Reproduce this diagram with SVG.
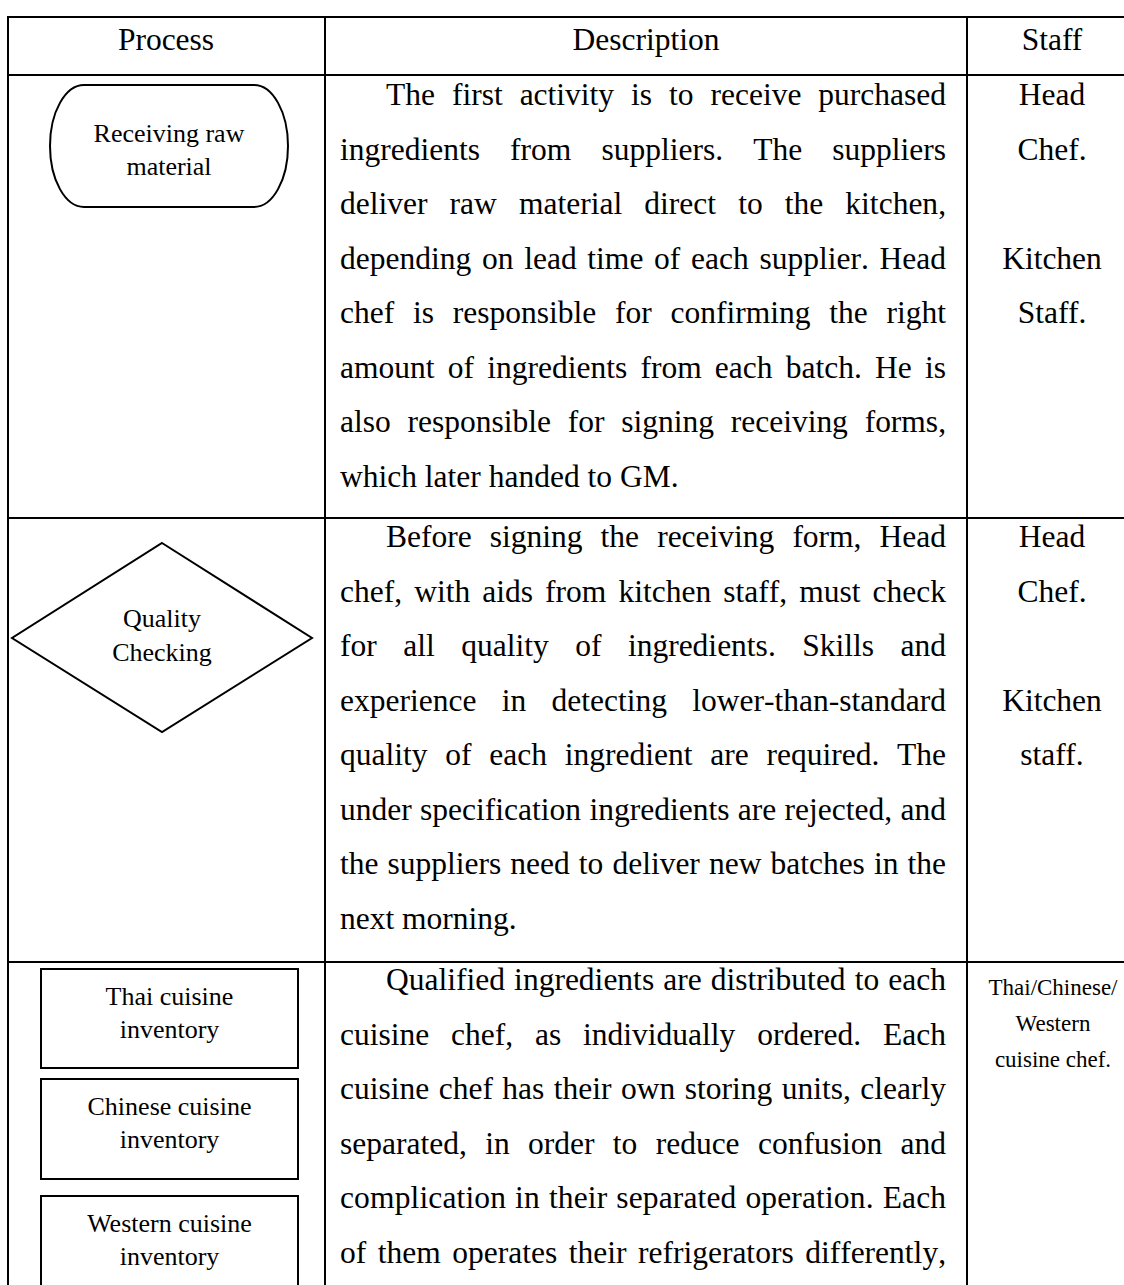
<svg xmlns="http://www.w3.org/2000/svg" width="1124" height="1285" viewBox="0 0 1124 1285">
  <style>
    .grid { stroke: #000; stroke-width: 2; fill: none; }
    .shape { stroke: #000; stroke-width: 2; fill: #fff; }
    .head { font-family: "Liberation Serif", "Times New Roman", serif; font-size: 31.5px; fill: #000; text-anchor: middle; }
    .body { font-family: "Liberation Serif", "Times New Roman", serif; font-size: 31.5px; fill: #000; font-kerning: none; }
    .staff { font-family: "Liberation Serif", "Times New Roman", serif; font-size: 31.5px; fill: #000; text-anchor: middle; }
    .staff-sm { font-family: "Liberation Serif", "Times New Roman", serif; font-size: 23px; fill: #000; text-anchor: middle; }
    .label { font-family: "Liberation Serif", "Times New Roman", serif; font-size: 26px; fill: #000; text-anchor: middle; }
  </style>
  <rect width="1124" height="1285" fill="#fff"/>

  <!-- table rules -->
  <g id="table" class="grid">
    <line x1="8" y1="17" x2="1124" y2="17"/>
    <line x1="8" y1="75" x2="1124" y2="75"/>
    <line x1="8" y1="518" x2="1124" y2="518"/>
    <line x1="8" y1="962" x2="1124" y2="962"/>
    <line x1="8" y1="16" x2="8" y2="1285"/>
    <line x1="325" y1="16" x2="325" y2="1285"/>
    <line x1="967" y1="16" x2="967" y2="1285"/>
  </g>

  <!-- column headings -->
  <g id="headings">
    <text class="head" x="166" y="50">Process</text>
    <text class="head" x="646" y="50">Description</text>
    <text class="head" x="1052" y="50">Staff</text>
  </g>

  <!-- process shapes -->
  <g id="node-receiving">
    <rect class="shape" x="50" y="85" width="238" height="122" rx="34" ry="61"/>
    <text class="label" x="169" y="142">Receiving raw</text>
    <text class="label" x="169" y="175">material</text>
  </g>

  <g id="node-quality">
    <polygon class="shape" points="162,543 312,638 162,732 12,638"/>
    <text class="label" x="162" y="627">Quality</text>
    <text class="label" x="162" y="661">Checking</text>
  </g>

  <g id="node-thai">
    <rect class="shape" x="41" y="969" width="257" height="99"/>
    <text class="label" x="169.5" y="1005">Thai cuisine</text>
    <text class="label" x="169.5" y="1038">inventory</text>
  </g>

  <g id="node-chinese">
    <rect class="shape" x="41" y="1079" width="257" height="100"/>
    <text class="label" x="169.5" y="1115">Chinese cuisine</text>
    <text class="label" x="169.5" y="1148">inventory</text>
  </g>

  <g id="node-western">
    <rect class="shape" x="41" y="1196" width="257" height="100"/>
    <text class="label" x="169.5" y="1232">Western cuisine</text>
    <text class="label" x="169.5" y="1265">inventory</text>
  </g>

  <!-- descriptions (justified lines) -->
  <g id="desc-receiving" class="body">
    <text x="386" y="105" word-spacing="9.1" textLength="560" lengthAdjust="spacing">The first activity is to receive purchased</text>
    <text x="340" y="159.5" word-spacing="22.2" textLength="606" lengthAdjust="spacing">ingredients from suppliers. The suppliers</text>
    <text x="340" y="214" word-spacing="14.2" textLength="606" lengthAdjust="spacing">deliver raw material direct to the kitchen,</text>
    <text x="340" y="268.5" word-spacing="2.8" textLength="606" lengthAdjust="spacing">depending on lead time of each supplier. Head</text>
    <text x="340" y="323" word-spacing="10.9" textLength="606" lengthAdjust="spacing">chef is responsible for confirming the right</text>
    <text x="340" y="377.5" word-spacing="5.3" textLength="606" lengthAdjust="spacing">amount of ingredients from each batch. He is</text>
    <text x="340" y="432" word-spacing="8.9" textLength="606" lengthAdjust="spacing">also responsible for signing receiving forms,</text>
    <text x="340" y="486.5">which later handed to GM.</text>
  </g>

  <g id="desc-quality" class="body">
    <text x="386" y="547" word-spacing="10.2" textLength="560" lengthAdjust="spacing">Before signing the receiving form, Head</text>
    <text x="340" y="601.5" word-spacing="4.2" textLength="606" lengthAdjust="spacing">chef, with aids from kitchen staff, must check</text>
    <text x="340" y="656" word-spacing="18.6" textLength="606" lengthAdjust="spacing">for all quality of ingredients. Skills and</text>
    <text x="340" y="710.5" word-spacing="17.4" textLength="606" lengthAdjust="spacing">experience in detecting lower-than-standard</text>
    <text x="340" y="765" word-spacing="9.9" textLength="606" lengthAdjust="spacing">quality of each ingredient are required. The</text>
    <text x="340" y="819.5" word-spacing="0.5" textLength="606" lengthAdjust="spacing">under specification ingredients are rejected, and</text>
    <text x="340" y="874" word-spacing="1.2" textLength="606" lengthAdjust="spacing">the suppliers need to deliver new batches in the</text>
    <text x="340" y="928.5">next morning.</text>
  </g>

  <g id="desc-inventory" class="body">
    <text x="386" y="990" word-spacing="1.2" textLength="560" lengthAdjust="spacing">Qualified ingredients are distributed to each</text>
    <text x="340" y="1044.5" word-spacing="13.9" textLength="606" lengthAdjust="spacing">cuisine chef, as individually ordered. Each</text>
    <text x="340" y="1099" word-spacing="1.6" textLength="606" lengthAdjust="spacing">cuisine chef has their own storing units, clearly</text>
    <text x="340" y="1153.5" word-spacing="10.5" textLength="606" lengthAdjust="spacing">separated, in order to reduce confusion and</text>
    <text x="340" y="1208" word-spacing="1.0" textLength="606" lengthAdjust="spacing">complication in their separated operation. Each</text>
    <text x="340" y="1262.5" word-spacing="3.6" textLength="606" lengthAdjust="spacing">of them operates their refrigerators differently,</text>
  </g>

  <!-- staff column -->
  <g id="staff-receiving" class="staff">
    <text x="1052" y="105">Head</text>
    <text x="1052" y="159.5">Chef.</text>
    <text x="1052" y="268.5">Kitchen</text>
    <text x="1052" y="323">Staff.</text>
  </g>
  <g id="staff-quality" class="staff">
    <text x="1052" y="547">Head</text>
    <text x="1052" y="601.5">Chef.</text>
    <text x="1052" y="710.5">Kitchen</text>
    <text x="1052" y="765">staff.</text>
  </g>
  <g id="staff-inventory" class="staff-sm">
    <text x="1053" y="995">Thai/Chinese/</text>
    <text x="1053" y="1031">Western</text>
    <text x="1053" y="1067">cuisine chef.</text>
  </g>
</svg>
